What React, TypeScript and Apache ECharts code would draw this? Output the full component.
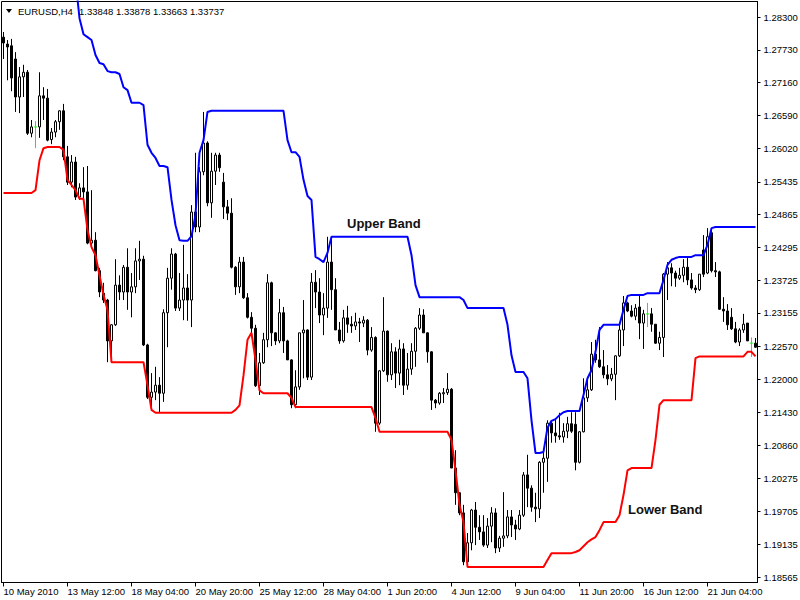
import React, { useEffect, useRef } from "react";
import * as echarts from "echarts";

const timeLabels = ["10 May 2010", "13 May 12:00", "18 May 04:00", "20 May 20:00", "25 May 12:00", "28 May 04:00", "1 Jun 20:00", "4 Jun 12:00", "9 Jun 04:00", "11 Jun 20:00", "16 Jun 12:00", "21 Jun 04:00"];
const barsPerLabel = 16;
const priceTicks = [1.18565, 1.19135, 1.19705, 1.20275, 1.2086, 1.2143, 1.22, 1.2257, 1.23155, 1.23725, 1.24295, 1.24865, 1.25435, 1.2602, 1.2659, 1.2716, 1.2773, 1.283];
const headerSymbol = "EURUSD,H4";
const headerQuotes = "1.33848 1.33878 1.33663 1.33737";

const opens = [
  1.2795, 1.2783, 1.2780, 1.2757, 1.2691, 1.2726, 1.2734, 1.2628, 1.2639, 1.2639,
  1.2693, 1.2689, 1.2617, 1.2630, 1.2648, 1.2667, 1.2587, 1.2543, 1.2578, 1.2517,
  1.2533, 1.2526, 1.2437, 1.2442, 1.2389, 1.2350, 1.2338, 1.2267, 1.2295, 1.2364,
  1.2352, 1.2395, 1.2352, 1.2361, 1.2406, 1.2409, 1.2260, 1.2169, 1.2178, 1.2190,
  1.2176, 1.2316, 1.2376, 1.2418, 1.2324, 1.2338, 1.2359, 1.2338, 1.2491, 1.2465,
  1.2561, 1.2611, 1.2507, 1.2562, 1.2590, 1.2543, 1.2500, 1.2489, 1.2395, 1.2361,
  1.2404, 1.2342, 1.2308, 1.2289, 1.2189, 1.2229, 1.2269, 1.2368, 1.2281, 1.2267,
  1.2316, 1.2267, 1.2234, 1.2156, 1.2187, 1.2281, 1.2286, 1.2204, 1.2369, 1.2352,
  1.2312, 1.2324, 1.2404, 1.2356, 1.2286, 1.2267, 1.2307, 1.2296, 1.2293, 1.2300,
  1.2298, 1.2303, 1.2251, 1.2273, 1.2124, 1.2215, 1.2284, 1.2208, 1.2248, 1.2211,
  1.2253, 1.2190, 1.2218, 1.2249, 1.2289, 1.2312, 1.2281, 1.2248, 1.2164, 1.2159,
  1.2175, 1.2177, 1.2183, 1.2046, 1.2003, 1.1968, 1.1883, 1.1916, 1.1973, 1.1943,
  1.1935, 1.1912, 1.1945, 1.1968, 1.1907, 1.1924, 1.1928, 1.1961, 1.1947, 1.1940,
  1.1964, 1.2034, 1.2011, 1.1978, 1.1975, 1.2056, 1.2063, 1.2124, 1.2107, 1.2102,
  1.2100, 1.2110, 1.2123, 1.2122, 1.2056, 1.2109, 1.2168, 1.2182, 1.2244, 1.2234,
  1.2222, 1.2208, 1.2201, 1.2209, 1.2241, 1.2286, 1.2333, 1.2319, 1.2310, 1.2326,
  1.2298, 1.2314, 1.2314, 1.2296, 1.2263, 1.2273, 1.2383, 1.2394, 1.2385, 1.2376,
  1.2381, 1.2395, 1.2373, 1.2359, 1.2356, 1.2425, 1.2385, 1.2455, 1.2389, 1.2387,
  1.2322, 1.2319, 1.2308, 1.2288, 1.2265, 1.2286, 1.2298, 1.2263, 1.2263,
];

const highs = [
  1.2804, 1.2790, 1.2792, 1.2769, 1.2743, 1.2747, 1.2738, 1.2651, 1.2649, 1.2734,
  1.2708, 1.2705, 1.2637, 1.2651, 1.2668, 1.2679, 1.2606, 1.2590, 1.2587, 1.2541,
  1.2569, 1.2571, 1.2529, 1.2456, 1.2394, 1.2368, 1.2340, 1.2296, 1.2409, 1.2381,
  1.2399, 1.2428, 1.2385, 1.2428, 1.2441, 1.2415, 1.2262, 1.2211, 1.2222, 1.2204,
  1.2322, 1.2394, 1.2428, 1.2420, 1.2385, 1.2434, 1.2383, 1.2503, 1.2594, 1.2569,
  1.2665, 1.2614, 1.2594, 1.2594, 1.2594, 1.2559, 1.2512, 1.2515, 1.2397, 1.2413,
  1.2413, 1.2350, 1.2317, 1.2295, 1.2246, 1.2281, 1.2383, 1.2370, 1.2282, 1.2340,
  1.2326, 1.2269, 1.2235, 1.2216, 1.2281, 1.2338, 1.2287, 1.2385, 1.2390, 1.2376,
  1.2350, 1.2448, 1.2448, 1.2376, 1.2300, 1.2321, 1.2328, 1.2310, 1.2316, 1.2307,
  1.2310, 1.2305, 1.2291, 1.2275, 1.2216, 1.2343, 1.2285, 1.2263, 1.2256, 1.2269,
  1.2263, 1.2246, 1.2263, 1.2291, 1.2324, 1.2322, 1.2282, 1.2249, 1.2166, 1.2178,
  1.2185, 1.2211, 1.2185, 1.2077, 1.2004, 1.1982, 1.1933, 1.1975, 1.1987, 1.1964,
  1.1964, 1.1959, 1.1978, 1.1976, 1.1928, 1.2004, 1.1973, 1.1973, 1.1956, 1.1973,
  1.2039, 1.2069, 1.2016, 1.2003, 1.2058, 1.2081, 1.2129, 1.2129, 1.2133, 1.2142,
  1.2124, 1.2135, 1.2143, 1.2143, 1.2110, 1.2202, 1.2204, 1.2265, 1.2269, 1.2291,
  1.2251, 1.2225, 1.2220, 1.2242, 1.2298, 1.2345, 1.2335, 1.2329, 1.2331, 1.2345,
  1.2321, 1.2333, 1.2324, 1.2296, 1.2283, 1.2385, 1.2404, 1.2402, 1.2389, 1.2394,
  1.2409, 1.2411, 1.2385, 1.2364, 1.2383, 1.2451, 1.2463, 1.2460, 1.2404, 1.2389,
  1.2343, 1.2331, 1.2324, 1.2300, 1.2289, 1.2314, 1.2298, 1.2273, 1.2272,
];

const lows = [
  1.2757, 1.2720, 1.2701, 1.2665, 1.2663, 1.2691, 1.2625, 1.2621, 1.2602, 1.2620,
  1.2651, 1.2614, 1.2609, 1.2621, 1.2634, 1.2581, 1.2538, 1.2534, 1.2512, 1.2512,
  1.2515, 1.2435, 1.2430, 1.2388, 1.2343, 1.2333, 1.2230, 1.2230, 1.2293, 1.2338,
  1.2338, 1.2321, 1.2308, 1.2350, 1.2373, 1.2258, 1.2166, 1.2152, 1.2164, 1.2143,
  1.2161, 1.2256, 1.2356, 1.2319, 1.2319, 1.2303, 1.2302, 1.2291, 1.2456, 1.2456,
  1.2555, 1.2501, 1.2481, 1.2538, 1.2561, 1.2479, 1.2477, 1.2393, 1.2347, 1.2350,
  1.2340, 1.2306, 1.2281, 1.2187, 1.2173, 1.2227, 1.2256, 1.2258, 1.2260, 1.2263,
  1.2246, 1.2234, 1.2150, 1.2150, 1.2182, 1.2202, 1.2199, 1.2199, 1.2324, 1.2298,
  1.2277, 1.2307, 1.2321, 1.2286, 1.2262, 1.2264, 1.2281, 1.2281, 1.2286, 1.2265,
  1.2291, 1.2242, 1.2248, 1.2109, 1.2121, 1.2213, 1.2196, 1.2199, 1.2185, 1.2190,
  1.2173, 1.2182, 1.2208, 1.2222, 1.2286, 1.2281, 1.2229, 1.2147, 1.2150, 1.2156,
  1.2159, 1.2173, 1.2046, 1.1982, 1.1964, 1.1877, 1.1874, 1.1903, 1.1912, 1.1921,
  1.1909, 1.1907, 1.1917, 1.1898, 1.1900, 1.1909, 1.1924, 1.1926, 1.1921, 1.1938,
  1.1961, 1.1978, 1.1970, 1.1952, 1.1959, 1.2003, 1.2022, 1.2090, 1.2090, 1.2095,
  1.2090, 1.2098, 1.2107, 1.2042, 1.2054, 1.2108, 1.2161, 1.2180, 1.2229, 1.2220,
  1.2202, 1.2190, 1.2197, 1.2164, 1.2239, 1.2258, 1.2317, 1.2308, 1.2303, 1.2270,
  1.2253, 1.2291, 1.2283, 1.2262, 1.2251, 1.2239, 1.2338, 1.2362, 1.2361, 1.2373,
  1.2369, 1.2364, 1.2356, 1.2350, 1.2354, 1.2378, 1.2383, 1.2386, 1.2378, 1.2321,
  1.2300, 1.2286, 1.2286, 1.2263, 1.2258, 1.2281, 1.2267, 1.2239, 1.2255,
];

const closes = [
  1.2785, 1.2778, 1.2724, 1.2691, 1.2726, 1.2734, 1.2628, 1.2639, 1.2639, 1.2693,
  1.2689, 1.2616, 1.2630, 1.2648, 1.2667, 1.2587, 1.2543, 1.2578, 1.2517, 1.2533,
  1.2526, 1.2437, 1.2442, 1.2389, 1.2352, 1.2338, 1.2267, 1.2295, 1.2364, 1.2352,
  1.2395, 1.2352, 1.2361, 1.2406, 1.2409, 1.2260, 1.2169, 1.2178, 1.2190, 1.2176,
  1.2316, 1.2376, 1.2418, 1.2324, 1.2338, 1.2359, 1.2338, 1.2491, 1.2465, 1.2561,
  1.2611, 1.2507, 1.2562, 1.2590, 1.2568, 1.2500, 1.2489, 1.2395, 1.2361, 1.2404,
  1.2342, 1.2308, 1.2289, 1.2189, 1.2229, 1.2269, 1.2368, 1.2281, 1.2267, 1.2316,
  1.2267, 1.2234, 1.2156, 1.2187, 1.2281, 1.2286, 1.2204, 1.2369, 1.2352, 1.2312,
  1.2324, 1.2404, 1.2356, 1.2286, 1.2267, 1.2307, 1.2296, 1.2293, 1.2300, 1.2298,
  1.2303, 1.2251, 1.2273, 1.2124, 1.2215, 1.2284, 1.2208, 1.2248, 1.2211, 1.2253,
  1.2190, 1.2218, 1.2249, 1.2289, 1.2312, 1.2281, 1.2248, 1.2164, 1.2159, 1.2176,
  1.2177, 1.2183, 1.2046, 1.2003, 1.1968, 1.1883, 1.1916, 1.1973, 1.1943, 1.1935,
  1.1912, 1.1945, 1.1968, 1.1907, 1.1924, 1.1928, 1.1961, 1.1947, 1.1940, 1.1964,
  1.2034, 1.2011, 1.1978, 1.1975, 1.2056, 1.2063, 1.2124, 1.2107, 1.2102, 1.2100,
  1.2110, 1.2123, 1.2110, 1.2056, 1.2109, 1.2168, 1.2182, 1.2244, 1.2234, 1.2222,
  1.2208, 1.2201, 1.2209, 1.2241, 1.2286, 1.2333, 1.2319, 1.2310, 1.2324, 1.2298,
  1.2314, 1.2314, 1.2296, 1.2263, 1.2273, 1.2383, 1.2394, 1.2385, 1.2376, 1.2381,
  1.2395, 1.2373, 1.2359, 1.2356, 1.2383, 1.2383, 1.2448, 1.2389, 1.2387, 1.2322,
  1.2319, 1.2295, 1.2288, 1.2265, 1.2286, 1.2296, 1.2267, 1.2263, 1.2256,
];

const upperBand = [
  null, null, null, null, null, null, null, null, null, null,
  null, null, null, null, null, null, null, null, 1.2894, 1.2828,
  1.2800, 1.2795, 1.2790, 1.2764, 1.2750, 1.2748, 1.2736, 1.2734, 1.2734, 1.2731,
  1.2708, 1.2703, 1.2681, 1.2681, 1.2681, 1.2677, 1.2608, 1.2594, 1.2585, 1.2571,
  1.2571, 1.2569, 1.2512, 1.2468, 1.2442, 1.2441, 1.2441, 1.2449, 1.2486, 1.2594,
  1.2616, 1.2665, 1.2667, 1.2667, 1.2667, 1.2667, 1.2667, 1.2667, 1.2667, 1.2667,
  1.2667, 1.2667, 1.2667, 1.2667, 1.2667, 1.2667, 1.2667, 1.2667, 1.2667, 1.2667,
  1.2667, 1.2616, 1.2595, 1.2595, 1.2587, 1.2547, 1.2519, 1.2512, 1.2413, 1.2409,
  1.2404, 1.2420, 1.2448, 1.2448, 1.2448, 1.2448, 1.2448, 1.2448, 1.2448, 1.2448,
  1.2448, 1.2448, 1.2448, 1.2448, 1.2448, 1.2448, 1.2448, 1.2448, 1.2448, 1.2448,
  1.2448, 1.2448, 1.2416, 1.2364, 1.2343, 1.2343, 1.2343, 1.2343, 1.2343, 1.2343,
  1.2343, 1.2343, 1.2343, 1.2343, 1.2343, 1.2338, 1.2324, 1.2324, 1.2324, 1.2324,
  1.2324, 1.2324, 1.2324, 1.2324, 1.2324, 1.2324, 1.2295, 1.2242, 1.2213, 1.2213,
  1.2213, 1.2202, 1.2129, 1.2072, 1.2072, 1.2074, 1.2116, 1.2128, 1.2131, 1.2138,
  1.2143, 1.2145, 1.2145, 1.2145, 1.2145, 1.2173, 1.2202, 1.2216, 1.2248, 1.2286,
  1.2295, 1.2295, 1.2295, 1.2295, 1.2295, 1.2321, 1.2345, 1.2347, 1.2347, 1.2347,
  1.2347, 1.2350, 1.2350, 1.2350, 1.2350, 1.2373, 1.2399, 1.2408, 1.2411, 1.2413,
  1.2413, 1.2413, 1.2413, 1.2416, 1.2416, 1.2416, 1.2434, 1.2463, 1.2465, 1.2465,
  1.2465, 1.2465, 1.2465, 1.2465, 1.2465, 1.2465, 1.2465, 1.2465, 1.2465,
];

const lowerBand = [
  1.2524, 1.2524, 1.2524, 1.2524, 1.2524, 1.2524, 1.2524, 1.2524, 1.2529, 1.2581,
  1.2602, 1.2604, 1.2604, 1.2604, 1.2604, 1.2599, 1.2547, 1.2538, 1.2529, 1.2514,
  1.2514, 1.2460, 1.2430, 1.2416, 1.2381, 1.2347, 1.2321, 1.2230, 1.2230, 1.2230,
  1.2230, 1.2230, 1.2230, 1.2230, 1.2230, 1.2230, 1.2190, 1.2147, 1.2142, 1.2142,
  1.2142, 1.2142, 1.2142, 1.2142, 1.2142, 1.2142, 1.2142, 1.2142, 1.2142, 1.2142,
  1.2142, 1.2142, 1.2142, 1.2142, 1.2142, 1.2142, 1.2142, 1.2142, 1.2147, 1.2155,
  1.2207, 1.2269, 1.2281, 1.2234, 1.2181, 1.2176, 1.2176, 1.2176, 1.2176, 1.2176,
  1.2176, 1.2176, 1.2168, 1.2152, 1.2152, 1.2152, 1.2152, 1.2152, 1.2152, 1.2152,
  1.2152, 1.2152, 1.2152, 1.2152, 1.2152, 1.2152, 1.2152, 1.2152, 1.2152, 1.2152,
  1.2152, 1.2152, 1.2152, 1.2133, 1.2109, 1.2109, 1.2109, 1.2109, 1.2109, 1.2109,
  1.2109, 1.2109, 1.2109, 1.2109, 1.2109, 1.2109, 1.2109, 1.2109, 1.2109, 1.2109,
  1.2109, 1.2109, 1.2095, 1.2042, 1.1982, 1.1952, 1.1874, 1.1874, 1.1874, 1.1874,
  1.1874, 1.1874, 1.1874, 1.1874, 1.1874, 1.1874, 1.1874, 1.1874, 1.1874, 1.1874,
  1.1874, 1.1874, 1.1874, 1.1874, 1.1874, 1.1874, 1.1886, 1.1898, 1.1898, 1.1898,
  1.1898, 1.1898, 1.1898, 1.1900, 1.1903, 1.1910, 1.1917, 1.1922, 1.1926, 1.1938,
  1.1952, 1.1952, 1.1952, 1.1952, 1.1964, 1.1999, 1.2042, 1.2046, 1.2046, 1.2046,
  1.2046, 1.2046, 1.2046, 1.2095, 1.2156, 1.2164, 1.2164, 1.2164, 1.2164, 1.2164,
  1.2164, 1.2164, 1.2164, 1.2237, 1.2240, 1.2240, 1.2240, 1.2240, 1.2240, 1.2240,
  1.2240, 1.2240, 1.2240, 1.2240, 1.2240, 1.2240, 1.2248, 1.2248, 1.2240,
];

const FONT = "Liberation Sans, Arial, sans-serif";
const SMALL = 9.5;

export default function App() {
  const ref = useRef<HTMLDivElement>(null);
  useEffect(() => {
    if (!ref.current) return;
    const chart = echarts.init(ref.current, null, { renderer: "svg" });
    const categories = opens.map((_, i) => String(i));
    const green = "#00ff00";
    const candleData = opens.map((o, i) => {
      const item: any = { value: [o, closes[i], lows[i], highs[i]] };
      if (o === closes[i]) {
        item.itemStyle = {
          color: green,
          color0: green,
          borderColor: green,
          borderColor0: green,
          borderColorDoji: green,
        };
      }
      return item;
    });
    const showIdx = (idx: number) => idx % barsPerLabel === 0;
    chart.setOption({
      animation: false,
      backgroundColor: "#ffffff",
      grid: {
        left: 1.5,
        right: 42.5,
        top: 1.5,
        bottom: 17.5,
        show: true,
        borderColor: "#000000",
        borderWidth: 1,
        backgroundColor: "transparent",
        containLabel: false,
        outerBoundsMode: "none",
      },
      xAxis: {
        type: "category",
        data: categories,
        boundaryGap: true,
        axisLine: { show: true, lineStyle: { color: "#000000", width: 1 } },
        axisTick: {
          show: true,
          alignWithLabel: true,
          interval: (idx: number) => showIdx(idx),
          length: 4,
          lineStyle: { color: "#000000" },
        },
        axisLabel: {
          interval: (idx: number) => showIdx(idx),
          formatter: (_v: string, idx: number) =>
            showIdx(idx) ? timeLabels[idx / barsPerLabel] ?? "" : "",
          align: "left",
          margin: 4,
          color: "#000000",
          fontFamily: FONT,
          fontSize: SMALL,
          hideOverlap: false,
        },
        splitLine: { show: false },
      },
      yAxis: {
        type: "value",
        position: "right",
        min: 1.1847,
        max: 1.2857,
        scale: true,
        axisLine: { show: true, lineStyle: { color: "#000000", width: 1 } },
        axisTick: {
          show: true,
          length: 3,
          customValues: priceTicks,
          lineStyle: { color: "#000000" },
        },
        axisLabel: {
          customValues: priceTicks,
          formatter: (v: number) => v.toFixed(5),
          margin: 6,
          color: "#000000",
          fontFamily: FONT,
          fontSize: SMALL,
        },
        splitLine: { show: false },
      },
      series: [
        {
          type: "candlestick",
          data: candleData,
          barWidth: 2,
          z: 2,
          itemStyle: {
            color: "#ffffff",
            color0: "#000000",
            borderColor: "#000000",
            borderColor0: "#000000",
            borderColorDoji: green,
            borderWidth: 1,
          },
        },
        {
          type: "line",
          data: upperBand,
          symbol: "none",
          z: 3,
          connectNulls: false,
          lineStyle: { color: "#0000ff", width: 2 },
          clip: true,
        },
        {
          type: "line",
          data: lowerBand,
          symbol: "none",
          z: 3,
          lineStyle: { color: "#ff0000", width: 2 },
          clip: true,
        },
      ],
      graphic: [
        {
          type: "polygon",
          shape: { points: [[6, 9], [12, 9], [9, 13]] },
          style: { fill: "#000000" },
          z: 10,
        },
        {
          type: "text",
          x: 18,
          y: 11,
          style: {
            text: headerSymbol,
            fill: "#000000",
            font: `${SMALL}px ${FONT}`,
            verticalAlign: "middle",
          },
          z: 10,
        },
        {
          type: "text",
          x: 79,
          y: 11,
          style: {
            text: headerQuotes,
            fill: "#000000",
            font: `${SMALL}px ${FONT}`,
            verticalAlign: "middle",
          },
          z: 10,
        },
        {
          type: "text",
          x: 347,
          y: 223,
          style: {
            text: "Upper Band",
            fill: "#111111",
            font: `bold 13px ${FONT}`,
            verticalAlign: "middle",
          },
          z: 10,
        },
        {
          type: "text",
          x: 628,
          y: 509,
          style: {
            text: "Lower Band",
            fill: "#111111",
            font: `bold 13px ${FONT}`,
            verticalAlign: "middle",
          },
          z: 10,
        },
      ],
    });
    return () => chart.dispose();
  }, []);
  return (
    <div
      ref={ref}
      style={{ width: 800, height: 600, position: "absolute", left: 0, top: 0 }}
    />
  );
}
